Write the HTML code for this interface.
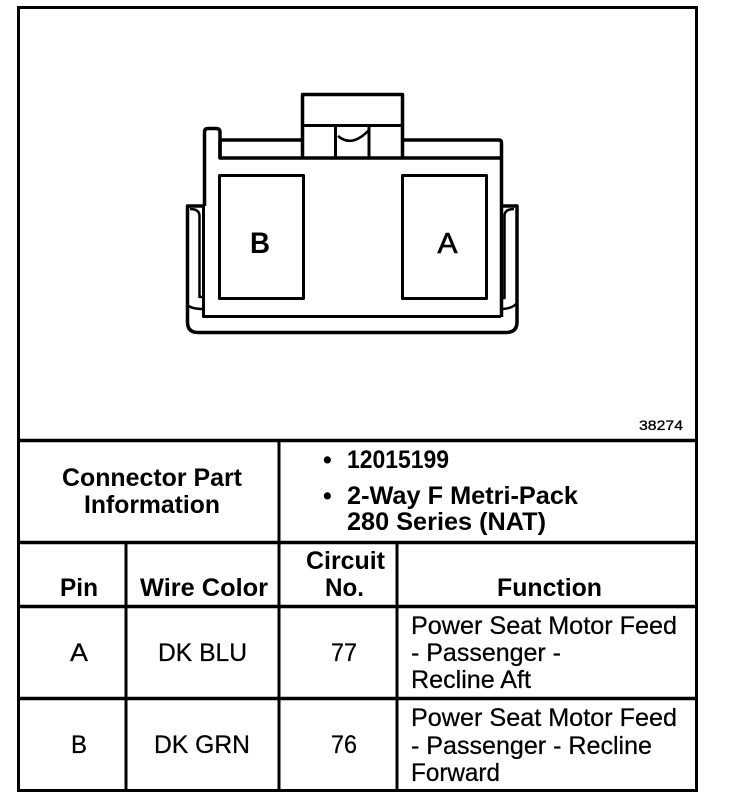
<!DOCTYPE html>
<html><head><meta charset="utf-8"><style>
html,body{margin:0;padding:0;background:#fff}
svg{display:block}
text{font-family:"Liberation Sans",sans-serif;fill:#000}
.b{font-weight:bold;font-size:25px}
.r{font-size:25px;stroke:#000;stroke-width:.25px}
</style></head><body>
<svg width="736" height="804" viewBox="0 0 736 804" xmlns="http://www.w3.org/2000/svg">
<rect width="736" height="804" fill="#fff"/>
<g fill="none" stroke="#000" stroke-width="2.5">
<rect x="18.5" y="7.500" width="678" height="783" stroke-width="3"/>
<path d="M18 440.500H697M18 542.500H697M18 606.500H697M18 698.500H697" stroke-width="3.500"/>
<path d="M279 440V791M126 542V791M397 542V791" stroke-width="3"/>
</g>
<g fill="none" stroke="#000" stroke-width="3.500" stroke-linejoin="round">
<path d="M302.500 158V94.500H402.500V158"/>
<path d="M303 125.500H402" stroke-width="3"/>
<path d="M335.500 125V158M369 126V158" stroke-width="3"/>
<path d="M338 136Q352 148 369 130" stroke-width="2.500"/>
<path d="M303 140H220M220 158V132Q220 128.500 216 128.500H208Q204.500 128.500 204.500 132V206"/>
<path d="M220 140V158H501.500V317M402.500 140H499Q501.500 140 501.500 143V158"/>
<path d="M203.500 206V316.500H501" stroke-width="3"/>
<rect x="219.500" y="175.500" width="84" height="123" stroke-width="3"/>
<rect x="402.500" y="175.500" width="84" height="123" stroke-width="3"/>
<path d="M203 206H187.500V322Q187.500 332.500 198 332.500H506Q517 332.500 517 322V206H501"/>
<path d="M190 209Q199.500 209 199.500 216V297H203" stroke-width="2.500"/>
<path d="M514 209Q504.500 209 504.500 216V298H501" stroke-width="2.500"/>
<path d="M187 305Q192 309 203 309" stroke-width="2.500"/>
<path d="M517 303Q512 309 501 309" stroke-width="2.500"/>
</g>
<text x="250" y="253" font-size="30" font-weight="bold" textLength="20" lengthAdjust="spacingAndGlyphs">B</text>
<text x="437.500" y="253" font-size="29" textLength="20" lengthAdjust="spacingAndGlyphs" stroke="#000" stroke-width=".6">A</text>
<text x="639" y="430" font-size="14" textLength="44" lengthAdjust="spacingAndGlyphs" stroke="#000" stroke-width=".3">38274</text>
<text class="b" x="62" y="486" textLength="180" lengthAdjust="spacingAndGlyphs">Connector Part</text>
<text class="b" x="84" y="513" textLength="136" lengthAdjust="spacingAndGlyphs">Information</text>
<text class="b" x="323" y="468">•</text>
<text class="b" x="347" y="468" textLength="102" lengthAdjust="spacingAndGlyphs">12015199</text>
<text class="b" x="323" y="504">•</text>
<text class="b" x="347" y="504" textLength="231" lengthAdjust="spacingAndGlyphs">2-Way F Metri-Pack</text>
<text class="b" x="347" y="530" textLength="199" lengthAdjust="spacingAndGlyphs">280 Series (NAT)</text>
<text class="b" x="60" y="596" textLength="38" lengthAdjust="spacingAndGlyphs">Pin</text>
<text class="b" x="140" y="596" textLength="128" lengthAdjust="spacingAndGlyphs">Wire Color</text>
<text class="b" x="306" y="569" textLength="79" lengthAdjust="spacingAndGlyphs">Circuit</text>
<text class="b" x="325" y="596" textLength="39" lengthAdjust="spacingAndGlyphs">No.</text>
<text class="b" x="497" y="596" textLength="105" lengthAdjust="spacingAndGlyphs">Function</text>
<text class="r" x="70" y="661" textLength="18" lengthAdjust="spacingAndGlyphs">A</text>
<text class="r" x="158" y="661" textLength="89" lengthAdjust="spacingAndGlyphs">DK BLU</text>
<text class="r" x="331" y="661" textLength="26" lengthAdjust="spacingAndGlyphs">77</text>
<text class="r" x="411" y="634" textLength="266" lengthAdjust="spacingAndGlyphs">Power Seat Motor Feed</text>
<text class="r" x="411" y="661" textLength="150" lengthAdjust="spacingAndGlyphs">- Passenger -</text>
<text class="r" x="411" y="688" textLength="120" lengthAdjust="spacingAndGlyphs">Recline Aft</text>
<text class="r" x="71" y="753" textLength="16" lengthAdjust="spacingAndGlyphs">B</text>
<text class="r" x="154" y="753" textLength="96" lengthAdjust="spacingAndGlyphs">DK GRN</text>
<text class="r" x="331" y="753" textLength="26" lengthAdjust="spacingAndGlyphs">76</text>
<text class="r" x="411" y="726" textLength="266" lengthAdjust="spacingAndGlyphs">Power Seat Motor Feed</text>
<text class="r" x="411" y="754" textLength="241" lengthAdjust="spacingAndGlyphs">- Passenger - Recline</text>
<text class="r" x="411" y="781" textLength="89" lengthAdjust="spacingAndGlyphs">Forward</text>
</svg>
</body></html>
